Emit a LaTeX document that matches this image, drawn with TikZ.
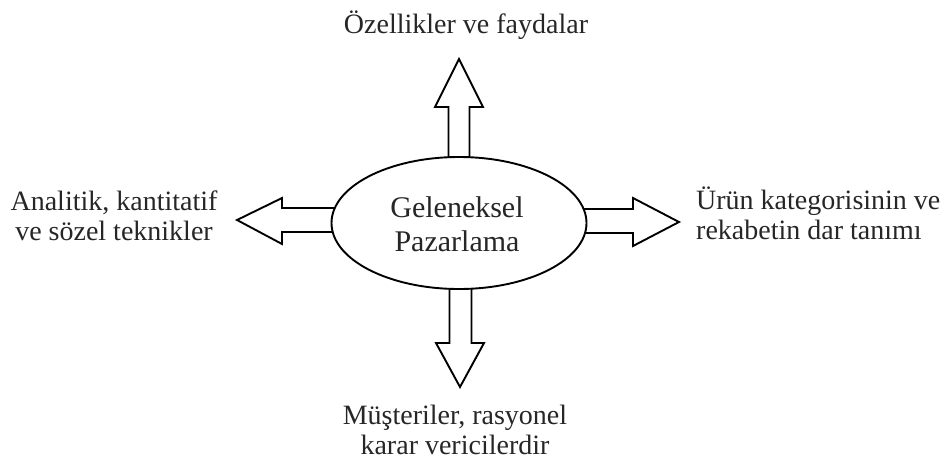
\documentclass[tikz,border=0pt]{standalone}
\usepackage{fontspec}
\setmainfont{Liberation Serif}
\usetikzlibrary{shapes.geometric}
\begin{document}
\begin{tikzpicture}[x=1pt,y=-1pt,
  blk/.style={draw=black, line width=1.9pt, fill=white, line join=miter},
  lbl/.style={font=\fontsize{28}{30}\selectfont, inner sep=0pt, text=black!85},
  ctrlbl/.style={font=\fontsize{30}{34}\selectfont, inner sep=0pt, text=black!85}]
\useasboundingbox (0,0) rectangle (945,459);
\coordinate (ctr) at (459,223);
% block arrows
\draw[blk, shift={(ctr)}] (-10.5,-55) -- (-10.5,-116) -- (-24,-116) -- (0,-164) -- (24,-116) -- (10.5,-116) -- (10.5,-55) -- cycle;
\draw[blk, shift={(ctr)}] (-9.5,55) -- (-9.5,120) -- (-23,120) -- (1,164) -- (25,120) -- (12.5,120) -- (12.5,55) -- cycle;
\draw[blk, shift={(ctr)}] (-110,-15) -- (-177,-15) -- (-177,-25) -- (-222,-3) -- (-177,21) -- (-177,9) -- (-110,9) -- cycle;
\draw[blk, shift={(ctr)}] (110,-14) -- (174,-14) -- (174,-25) -- (220,-1) -- (174,23) -- (174,10) -- (110,10) -- cycle;
% central ellipse
\node[ellipse, draw=black, line width=1.9pt, fill=white, minimum width=255pt, minimum height=132pt, inner sep=0pt] (gm) at (ctr) {};
\node[ctrlbl, align=center, anchor=base] (gt) at (457,251) {Geleneksel\\Pazarlama};
% labels
\node[lbl, anchor=base] (top) at (466,33) {Özellikler ve faydalar};
\node[lbl, align=center, anchor=base] (left) at (114,240) {Analitik, kantitatif\\ve sözel teknikler};
\node[lbl, align=left, anchor=base west] (right) at (696,239) {Ürün kategorisinin ve\\rekabetin dar tanımı};
\node[lbl, align=center, anchor=base] (bot) at (455,454) {Müşteriler, rasyonel\\karar vericilerdir};
\end{tikzpicture}
\end{document}
